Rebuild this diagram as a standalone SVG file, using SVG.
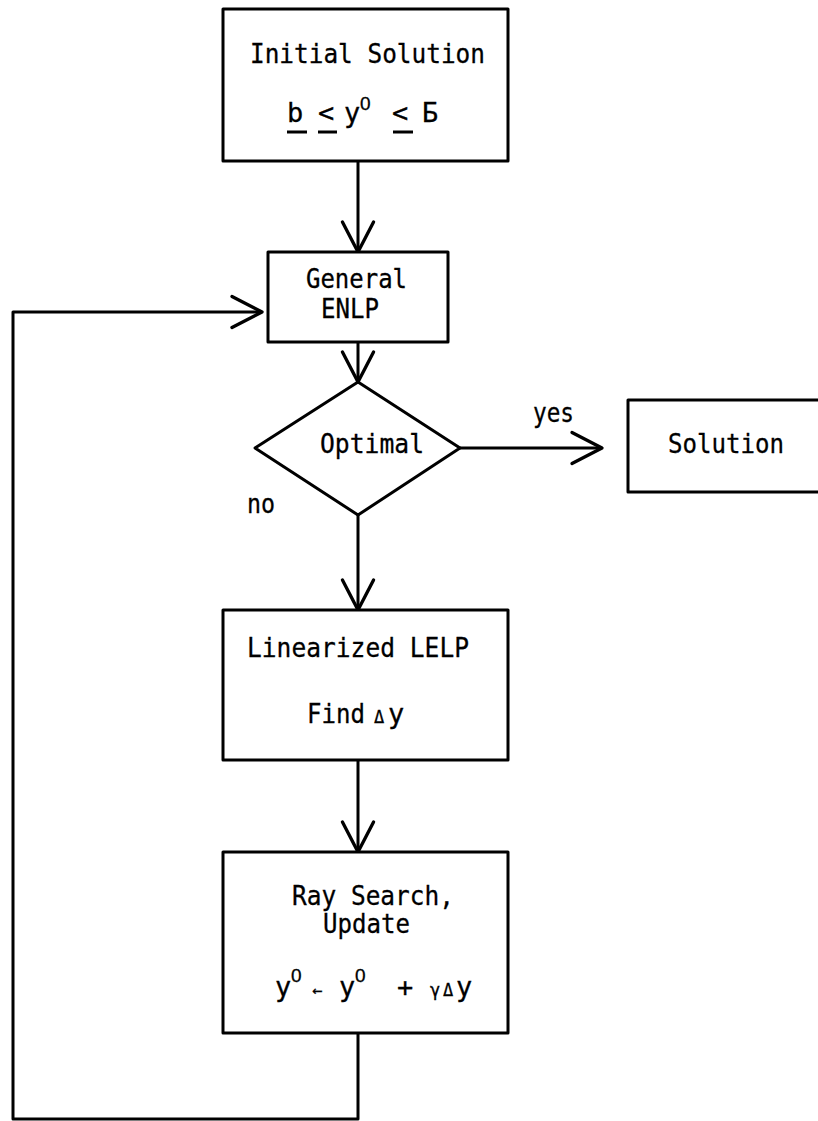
<svg xmlns="http://www.w3.org/2000/svg" width="818" height="1121" viewBox="0 0 818 1121">
  <style>
    .box { fill: #fff; stroke: #000; stroke-width: 3; stroke-linejoin: round; }
    .wire { fill: none; stroke: #000; stroke-width: 3; stroke-linejoin: round; }
    .lbl { font-family: "DejaVu Sans Mono", "Liberation Mono", monospace; font-size: 27px; fill: #000; stroke: #000; stroke-width: 0.3; }
    .sup { font-family: "Liberation Sans", "DejaVu Sans", sans-serif; font-size: 19px; }
    .small { font-size: 17px; }
    .ul { stroke: #000; stroke-width: 3; }
  </style>
  <defs>
    <marker id="arrow" markerUnits="userSpaceOnUse" markerWidth="40" markerHeight="40" viewBox="-30 -18 34 36" refX="0" refY="0" orient="auto">
      <path d="M-27,-14 L0,0 L-27,14" fill="none" stroke="#000" stroke-width="3" stroke-linejoin="round" stroke-linecap="round"/>
    </marker>
  </defs>

  <rect width="818" height="1121" fill="#fff"/>

  <!-- connectors -->
  <g id="connectors">
    <path class="wire" d="M358,162 L358,252" marker-end="url(#arrow)"/>
    <path class="wire" d="M358,342 L358,382" marker-end="url(#arrow)"/>
    <path class="wire" d="M460,448 L602,448" marker-end="url(#arrow)"/>
    <path class="wire" d="M358,515 L358,610" marker-end="url(#arrow)"/>
    <path class="wire" d="M358,760 L358,852" marker-end="url(#arrow)"/>
    <path class="wire" d="M358,1033 L358,1119 L13,1119 L13,312 L262,312" marker-end="url(#arrow)"/>
    <text class="lbl" x="533" y="422" textLength="41" lengthAdjust="spacingAndGlyphs">yes</text>
    <text class="lbl" x="247" y="513" textLength="28" lengthAdjust="spacingAndGlyphs">no</text>
  </g>

  <!-- start node -->
  <g id="initial">
    <rect class="box" x="223" y="9" width="285" height="152"/>
    <text class="lbl" x="250" y="63" textLength="235" lengthAdjust="spacingAndGlyphs">Initial Solution</text>
    <text class="lbl" y="122"><tspan x="287">b</tspan><tspan x="318">&lt;</tspan><tspan x="344">y</tspan><tspan class="sup" x="360" dy="-12">0</tspan><tspan x="392" dy="12">&lt;</tspan><tspan x="422">Б</tspan></text>
    <line class="ul" x1="287" y1="132" x2="307" y2="132"/>
    <line class="ul" x1="318" y1="132" x2="337" y2="132"/>
    <line class="ul" x1="393" y1="132" x2="413" y2="132"/>
  </g>

  <g id="general">
    <rect class="box" x="268" y="252" width="180" height="90"/>
    <text class="lbl" x="306" y="288" textLength="101" lengthAdjust="spacingAndGlyphs">General</text>
    <text class="lbl" x="321" y="318" textLength="58" lengthAdjust="spacingAndGlyphs">ENLP</text>
  </g>

  <g id="optimal">
    <polygon class="box" points="358,382 460,448 358,515 255,448"/>
    <text class="lbl" x="320" y="453" textLength="104" lengthAdjust="spacingAndGlyphs">Optimal</text>
  </g>

  <g id="solution">
    <rect class="box" x="628" y="400" width="200" height="92"/>
    <text class="lbl" x="668" y="453" textLength="116" lengthAdjust="spacingAndGlyphs">Solution</text>
  </g>

  <g id="linearized">
    <rect class="box" x="223" y="610" width="285" height="150"/>
    <text class="lbl" x="247" y="657" textLength="222" lengthAdjust="spacingAndGlyphs">Linearized LELP</text>
    <text class="lbl" y="723"><tspan x="307" textLength="58" lengthAdjust="spacingAndGlyphs">Find</tspan><tspan class="small" x="374">Δ</tspan><tspan x="388">y</tspan></text>
  </g>

  <g id="raysearch">
    <rect class="box" x="223" y="852" width="285" height="181"/>
    <text class="lbl" x="292" y="905" textLength="162" lengthAdjust="spacingAndGlyphs">Ray Search,</text>
    <text class="lbl" x="323" y="933" textLength="87" lengthAdjust="spacingAndGlyphs">Update</text>
    <text class="lbl" y="996"><tspan x="275">y</tspan><tspan class="sup" x="291" dy="-14">0</tspan><tspan class="small" x="312" dy="14">←</tspan><tspan x="339">y</tspan><tspan class="sup" x="355" dy="-14">0</tspan><tspan x="397" dy="14">+</tspan><tspan class="small" x="430">γ</tspan><tspan class="small" x="443">Δ</tspan><tspan x="456">y</tspan></text>
  </g>
</svg>
